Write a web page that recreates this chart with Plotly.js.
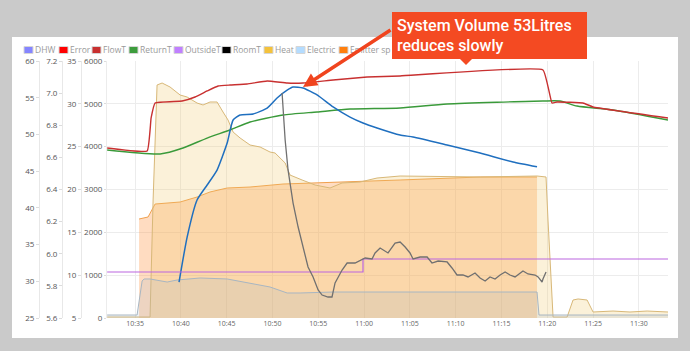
<!DOCTYPE html>
<html>
<head>
<meta charset="utf-8">
<script src="https://cdn.plot.ly/plotly-3.0.1.min.js"></script>
<style>html,body{margin:0;padding:0;background:#cacaca;}#chart{width:690px;height:351px;}</style>
</head>
<body>
<div id="chart"></div>
<script>
// ---- data ----
const DAY = '2024-01-01 ';

const flowTTime = ['10:31:57','10:36:19','10:36:45','10:37:11','10:40:08','10:41:33','10:42:52','10:44:04','10:45:22','10:47:14','10:49:25','10:51:36','10:53:20','10:56:37','11:00:20','11:03:56','11:19:32','11:20:31','11:21:04','11:23:54','11:25:00','11:33:11'];
const flowT = [48.15,47.74,52.24,54.28,54.55,55.1,55.92,56.6,56.73,56.87,57.28,57.0,57.0,57.41,57.82,57.96,58.78,54.28,54.42,54.28,53.74,52.24];

const returnTTime = ['10:31:57','10:37:44','10:40:14','10:42:52','10:45:22','10:47:33','10:51:09','10:54:52','10:58:28','11:03:56','11:09:04','11:19:32','11:21:24','11:23:15','11:27:11','11:33:11'];
const returnT = [47.88,47.34,48.15,49.51,50.6,51.69,52.65,53.06,53.46,53.6,54.14,54.55,54.55,53.87,53.33,51.97];

const blueTime = ['10:39:48','10:40:41','10:41:46','10:42:52','10:43:57','10:45:03','10:45:42','10:46:28','10:47:53','10:49:25','10:50:30','10:51:36','10:52:15','10:53:20','10:54:52','10:56:37','10:58:28','10:59:53','11:01:25','11:03:56','11:05:21','11:09:04','11:12:40','11:16:16','11:18:53'];
const blueValues = [5.824,6.104,6.335,6.428,6.521,6.689,6.833,6.864,6.870,6.907,6.970,7.019,7.038,7.032,6.989,6.914,6.851,6.814,6.783,6.739,6.727,6.677,6.627,6.571,6.541];

const grayTime = ['10:51:03','10:51:23','10:51:42','10:52:15','10:52:48','10:53:20','10:53:53','10:54:26','10:54:59','10:55:25','10:56:04','10:56:30','10:56:50','10:57:36','10:58:09','10:59:01','10:59:47','11:00:07','11:00:52','11:01:12','11:01:45','11:02:37','11:03:23','11:03:56','11:04:29','11:05:01','11:05:21','11:06:07','11:06:53','11:07:25','11:08:05','11:09:04','11:09:36','11:10:09','11:10:48','11:11:21','11:12:07','11:12:40','11:13:13','11:13:45','11:14:18','11:14:51','11:15:24','11:15:56','11:16:29','11:17:21','11:17:54','11:18:40','11:19:00','11:19:26','11:19:32','11:19:52'];
const grayValues = [31.26,25.78,22.28,18.42,15.62,13.29,10.95,9.79,8.27,7.68,7.45,7.45,9.09,10.60,11.42,11.42,11.77,12.00,11.89,12.59,13.17,12.59,13.75,13.87,13.29,12.59,11.89,12.12,12.12,11.42,11.65,11.54,10.84,10.02,10.02,9.79,10.25,9.67,9.32,9.79,9.55,10.02,10.37,10.02,9.79,10.49,10.14,10.02,9.79,9.20,9.55,10.37];

const outsideTTime = ['10:31:57','10:59:53','11:33:11'];
const outsideT = [10.37,11.89,11.89];

const heatTime = ['10:31:57','10:36:25','10:36:38','10:36:58','10:37:24','10:37:57','10:38:49','10:39:55','10:40:41','10:41:46','10:42:25','10:43:11','10:43:57','10:44:36','10:45:09','10:45:42','10:46:28','10:47:33','10:48:39','10:49:44','10:50:17','10:51:23','10:51:55','10:53:14','10:54:39','10:56:17','10:57:36','10:59:34','11:01:25','11:03:56','11:12:40','11:18:53','11:19:52','11:20:05','11:20:31','11:20:38','11:22:10','11:22:49','11:23:22','11:24:21','11:25:00','11:27:11','11:29:02','11:30:54','11:33:11'];
const heat = [23,23,23,2755,5440,5486,5393,5206,5159,5019,4973,5043,5043,4809,4622,4342,4202,4039,3992,3875,3852,3619,3338,3222,3105,3035,3152,3175,3268,3315,3292,3315,3292,2288,420,23,23,420,444,420,140,163,140,163,140];

const emitterTime = ['10:35:26','10:36:25','10:37:11','10:39:55','10:41:46','10:43:11','10:45:03','10:47:33','10:51:09','10:54:52','10:58:28','11:03:56','11:12:40','11:18:53'];
const emitter = [2311,2358,2661,2708,2825,2942,3035,3058,3128,3152,3175,3222,3292,3292];

const electricTime = ['10:31:57','10:35:13','10:35:46','10:35:59','10:36:38','10:38:30','10:39:35','10:42:06','10:45:03','10:47:33','10:49:44','10:51:36','10:53:01','10:56:37','11:03:56','11:18:53','11:19:06','11:33:11'];
const electric = [70,70,864,911,911,840,887,934,911,817,724,584,584,607,607,607,70,70];

const legendNames = ['DHW','Error','FlowT','ReturnT','OutsideT','RoomT','Heat','Electric','Emitter sp'];
const legendColors = ['#8585ff','#ff0000','#c83030','#3c9c3c','#c080ff','#000000','#f4c23c','#b4dcff','#ff7f0e'];

const noteText = 'System Volume 53Litres<br>reduces slowly';

// ---- layout helpers (pixel -> paper) ----
const ML = 10, MR = 22, MT = 61, MB = 33, W = 690, H = 351;
const PW = W - ML - MR, PH = H - MT - MB;
const px = x => (x - ML) / PW;
const py = y => (H - MB - y) / PH;
const T = arr => arr.map(s => DAY + s);

const traces = [
  {x: T(emitterTime), y: emitter, yaxis: 'y', type: 'scatter', mode: 'lines', fill: 'tozeroy',
   line: {color: '#f0a04e', width: 1}, fillcolor: 'rgba(255,140,50,0.30)', name: 'Emitter spec'},
  {x: T(heatTime), y: heat, yaxis: 'y', type: 'scatter', mode: 'lines', fill: 'tozeroy',
   line: {color: '#d8b878', width: 1}, fillcolor: 'rgba(240,200,105,0.25)', name: 'Heat'},
  {x: T(electricTime), y: electric, yaxis: 'y', type: 'scatter', mode: 'lines', fill: 'tozeroy',
   line: {color: '#a8b6c2', width: 1}, fillcolor: 'rgba(165,180,195,0.2)', name: 'Electric'},
  {x: T(outsideTTime), y: outsideT, yaxis: 'y4', type: 'scatter', mode: 'lines',
   line: {color: '#bb66e0', width: 1.2, shape: 'hv'}, name: 'OutsideT'},
  {x: T(returnTTime), y: returnT, yaxis: 'y2', type: 'scatter', mode: 'lines',
   line: {color: '#3a9a3a', width: 1.4, shape: 'spline', smoothing: 0.6}, name: 'ReturnT'},
  {x: T(flowTTime), y: flowT, yaxis: 'y2', type: 'scatter', mode: 'lines',
   line: {color: '#c83030', width: 1.4, shape: 'spline', smoothing: 0.3}, name: 'FlowT'},
  {x: T(blueTime), y: blueValues, yaxis: 'y3', type: 'scatter', mode: 'lines',
   line: {color: '#1f6fbf', width: 1.5, shape: 'spline', smoothing: 0.5}, name: 'Blue'},
  {x: T(grayTime), y: grayValues, yaxis: 'y4', type: 'scatter', mode: 'lines',
   line: {color: '#707070', width: 1.3}, name: 'Gray'}
];

const tickFont = {family: 'Open Sans', size: 8, color: '#555'};
const freeAxis = (pos, range, dtick, fmt) => ({
  overlaying: 'y', anchor: 'free', side: 'left', position: pos, range: range, dtick: dtick,
  tickformat: fmt, showgrid: false, zeroline: false, showline: true, linecolor: '#e8e8e8', linewidth: 1,
  ticks: 'outside', ticklen: 3, tickcolor: '#dcdcdc', tickfont: tickFont, fixedrange: true
});

const shapes = [
  {type: 'rect', xref: 'paper', yref: 'paper', x0: px(12), x1: px(678), y0: py(338), y1: py(37),
   fillcolor: '#ffffff', line: {width: 0}, layer: 'below'},
  {type: 'path', xref: 'paper', yref: 'paper', layer: 'above',
   path: `M ${px(459)},${py(58)} L ${px(473)},${py(58)} L ${px(466)},${py(65)} Z`,
   fillcolor: '#f44a22', line: {width: 0}}
];
const annotations = [];
const sqX = [24,59,92,129,174,222,264,296,339];
const txX = [35,70,103,140,185,233,275,307,350];
legendNames.forEach((n, i) => {
  shapes.push({type: 'rect', xref: 'paper', yref: 'paper', x0: px(sqX[i]), x1: px(sqX[i] + 9),
    y0: py(53.5), y1: py(46.5), fillcolor: legendColors[i], line: {color: '#d6d6d6', width: 1}});
  annotations.push({xref: 'paper', yref: 'paper', x: px(txX[i]), y: py(50), xanchor: 'left', yanchor: 'middle',
    text: n, showarrow: false, borderpad: 0, borderwidth: 0, font: {family: 'Open Sans', size: 8.5, color: '#9a9a9a'}});
});
annotations.push({xref: 'paper', yref: 'paper', x: px(303), y: py(87), text: '', showarrow: true,
  ax: 89, ay: -58, arrowcolor: '#f0441e', arrowwidth: 3.5, arrowhead: 2, arrowsize: 0.8, standoff: 0});
annotations.push({xref: 'paper', yref: 'paper', x: px(392), y: py(12), xanchor: 'left', yanchor: 'top',
  text: noteText, showarrow: false, align: 'left', valign: 'middle', width: 185, height: 37, borderpad: 4,
  bgcolor: '#f44a22', bordercolor: '#f44a22', borderwidth: 1,
  font: {family: 'Roboto', size: 16, color: '#ffffff', weight: 500}});

const layout = {
  width: W, height: H, margin: {l: ML, r: MR, t: MT, b: MB, pad: 0},
  paper_bgcolor: '#cacaca', plot_bgcolor: 'rgba(0,0,0,0)', showlegend: false,
  xaxis: {type: 'date', domain: [px(107), 1], range: [DAY + '10:31:56', DAY + '11:33:11'],
    tick0: DAY + '10:35:00', dtick: 300000, tickformat: '%H:%M', showgrid: true, gridcolor: '#ececec',
    zeroline: false, showline: false, ticks: '', tickfont: {family: 'Open Sans', size: 7, color: '#666'}, fixedrange: true},
  yaxis: {range: [0, 6000], dtick: 1000, tickformat: 'd', showgrid: true, gridcolor: '#ececec', zeroline: false,
    showline: true, linecolor: '#ececec', ticks: 'outside', ticklen: 2, tickcolor: '#dcdcdc', tickfont: tickFont, fixedrange: true},
  yaxis2: freeAxis(px(39), [25, 60], 5, 'd'),
  yaxis3: freeAxis(px(62), [5.6, 7.2], 0.2, '.1f'),
  yaxis4: freeAxis(px(81), [5, 35], 5, 'd'),
  shapes: shapes, annotations: annotations
};

Plotly.newPlot('chart', traces, layout, {staticPlot: true, displayModeBar: false});
</script>
</body>
</html>
